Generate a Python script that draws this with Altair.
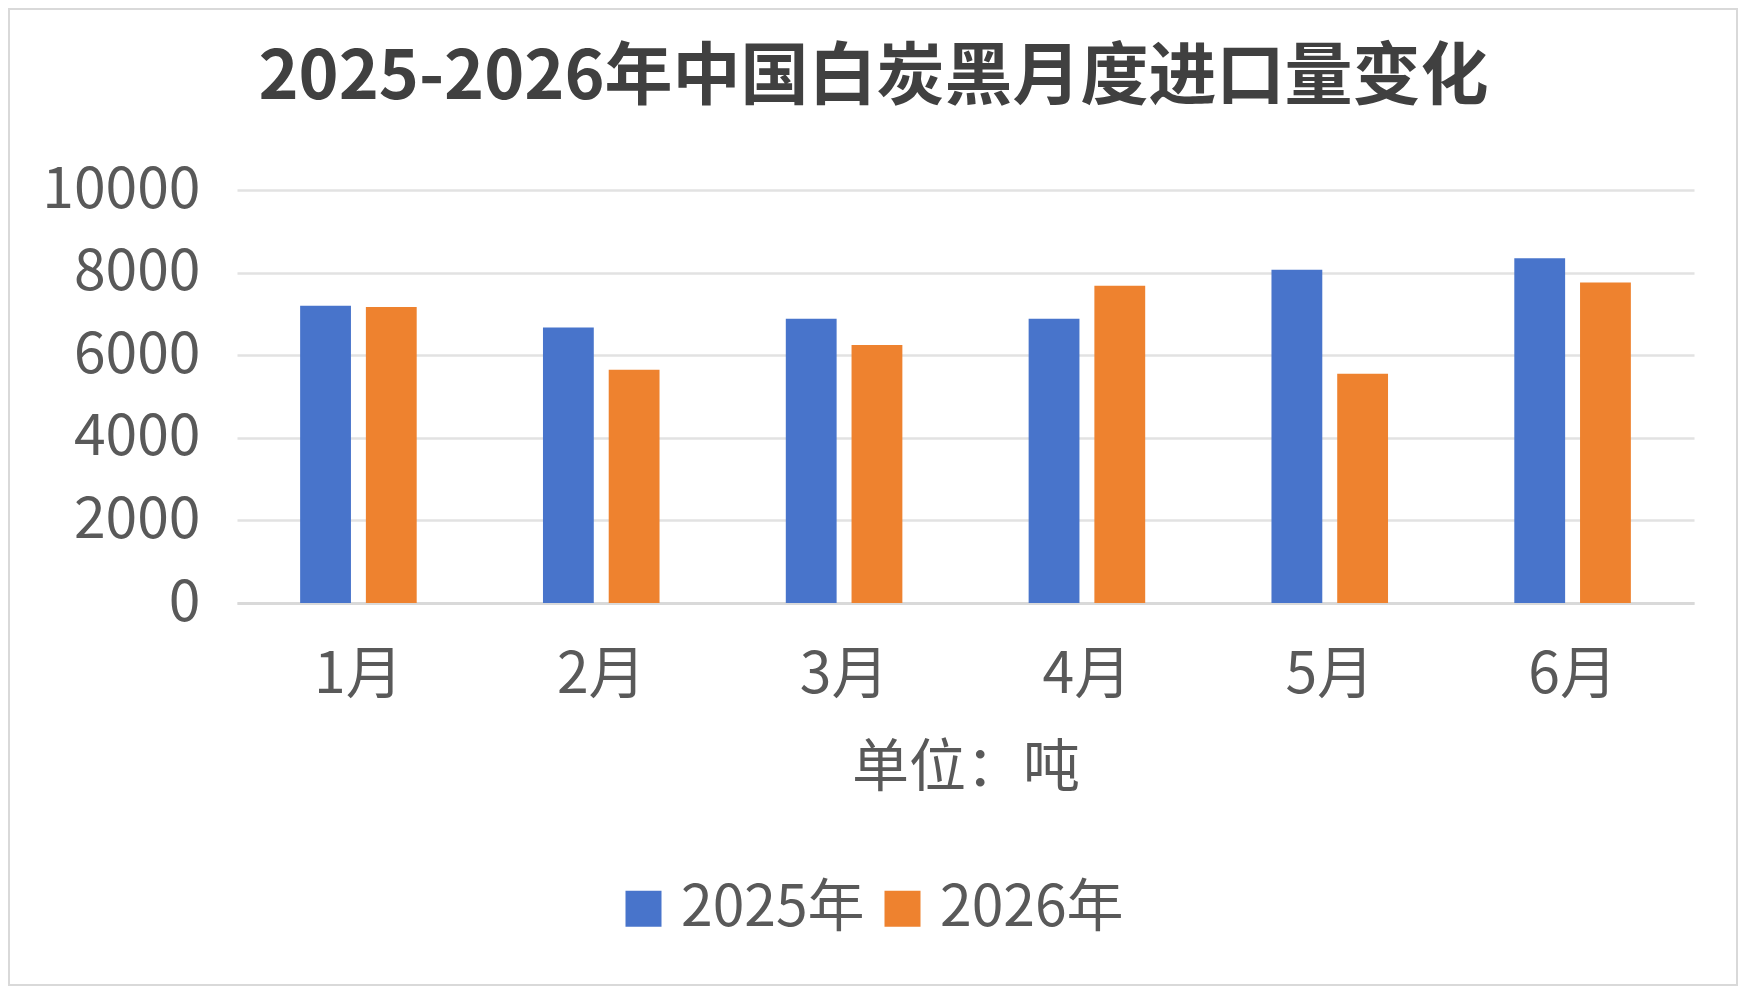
import altair as alt
import pandas as pd

months = ["1月", "2月", "3月", "4月", "5月", "6月"]
series = ["2025年", "2026年"]
v2025 = [7200, 6670, 6880, 6880, 8070, 8350]
v2026 = [7170, 5650, 6250, 7680, 5550, 7760]
colors = ["#4874CB", "#EE822F"]
y_ticks = [0, 2000, 4000, 6000, 8000, 10000]
title_text = "2025-2026年中国白炭黑月度进口量变化"
unit_text = "单位：吨"

rows = []
for i, m in enumerate(months):
    rows.append({"month": m, "series": series[0], "value": v2025[i]})
    rows.append({"month": m, "series": series[1], "value": v2026[i]})
df = pd.DataFrame(rows)

FONT = "Noto Sans CJK SC"
GREY = "#595959"

bars = alt.Chart(df).mark_bar().encode(
    x=alt.X(
        "month:N",
        sort=months,
        scale=alt.Scale(paddingInner=0.52, paddingOuter=0.26),
        axis=alt.Axis(
            title=unit_text,
            labelAngle=0,
            labelFont=FONT,
            labelFontSize=57,
            labelColor=GREY,
            labelPadding=44,
            titleFont=FONT,
            titleFontSize=57,
            titleFontWeight="normal",
            titleColor=GREY,
            titlePadding=37,
            ticks=False,
            grid=False,
            domainColor="#d9d9d9",
            domainWidth=3,
        ),
    ),
    xOffset=alt.XOffset(
        "series:N",
        sort=series,
        scale=alt.Scale(paddingInner=0.227, paddingOuter=0),
    ),
    y=alt.Y(
        "value:Q",
        scale=alt.Scale(domain=[0, 10000], nice=False),
        axis=alt.Axis(
            values=y_ticks,
            format="d",
            title=None,
            labelFont=FONT,
            labelFontSize=57,
            labelColor=GREY,
            labelPadding=37,
            ticks=False,
            domain=False,
            grid=True,
            gridColor="#e2e2e2",
            gridWidth=2.5,
        ),
    ),
    color=alt.Color(
        "series:N",
        sort=series,
        scale=alt.Scale(domain=series, range=colors),
        legend=alt.Legend(
            orient="none",
            legendX=378,
            legendY=690,
            direction="horizontal",
            title=None,
            symbolType="square",
            symbolSize=1296,
            symbolStrokeWidth=0,
            labelFont=FONT,
            labelFontSize=57,
            labelColor=GREY,
            labelLimit=400,
            labelOffset=9,
            columnPadding=9,
            padding=0,
        ),
    ),
)

border = alt.Chart(pd.DataFrame({"b": [0]})).mark_rect(
    fillOpacity=0, stroke="#d9d9d9", strokeWidth=2
).encode(
    x=alt.value(-228),
    x2=alt.value(1500),
    y=alt.value(-181),
    y2=alt.value(795),
)

chart = alt.layer(border, bars).properties(
    width=1457,
    height=413,
    autosize="none",
    background="white",
    padding={"left": 229, "top": 182, "right": 44, "bottom": 383},
    title=alt.TitleParams(
        text=title_text,
        font=FONT,
        fontSize=68,
        fontWeight="bold",
        color="#404040",
        anchor="middle",
        dx=-92,
        offset=-105,
    ),
).configure_view(stroke=None)

chart.save("out.html", embed_options={"renderer": "svg", "actions": False})
